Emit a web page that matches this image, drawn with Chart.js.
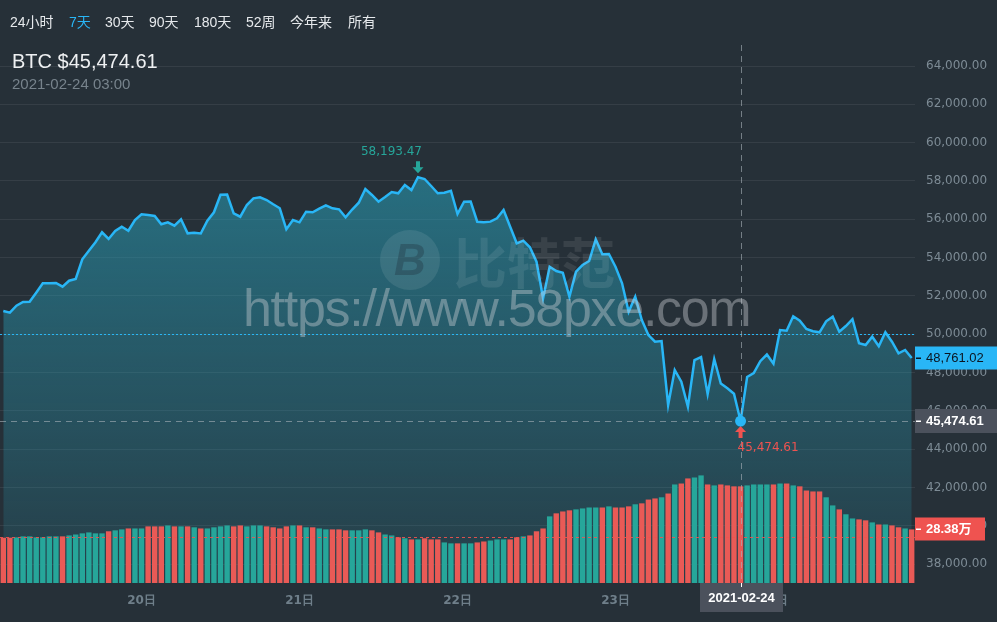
<!DOCTYPE html>
<html>
<head>
<meta charset="utf-8">
<script src="https://cdn.jsdelivr.net/npm/chart.js"></script>
<style>
  body { margin: 0; background: #263038; }
  #wrap { position: relative; width: 997px; height: 622px; overflow: hidden; background: #263038; }
  #c { position: absolute; left: 0; top: 0; }
  .t { position: absolute; white-space: nowrap; font-family: "Liberation Sans", "Noto Sans CJK SC", sans-serif; pointer-events: none; }
  .btn { top: 14px; font-size: 14px; line-height: 16px; color: #e6e9ec; }
  .btn.on { color: #29b6f6; }
  #title { left: 12px; top: 50px; font-size: 20px; line-height: 22px; color: #eef0f2; }
  #stamp { left: 12px; top: 75px; font-size: 15px; line-height: 17px; color: #77838c; }
  #wmUrl { left: 243px; top: 282px; font-size: 52px; line-height: 52px; letter-spacing: -1.3px; color: rgba(200,205,210,0.42); }
  #wmName { left: 453px; top: 234px; font-size: 54px; line-height: 54px; font-weight: bold; color: rgba(255,255,255,0.09); font-family: "Noto Sans CJK SC", sans-serif; }
  #wmLogo { left: 380px; top: 230px; width: 60px; height: 60px; border-radius: 50%; background: rgba(255,255,255,0.09);
            font: italic bold 44px/60px "Liberation Sans", sans-serif; text-align: center; color: rgba(30,50,60,0.35); }
</style>
</head>
<body>
<div id="wrap">
  <canvas id="c" width="997" height="622"></canvas>
  <div class="t btn" style="left:10px">24小时</div>
  <div class="t btn on" style="left:69px">7天</div>
  <div class="t btn" style="left:105px">30天</div>
  <div class="t btn" style="left:149px">90天</div>
  <div class="t btn" style="left:194px">180天</div>
  <div class="t btn" style="left:246px">52周</div>
  <div class="t btn" style="left:290px">今年来</div>
  <div class="t btn" style="left:348px">所有</div>
  <div class="t" id="title">BTC $45,474.61</div>
  <div class="t" id="stamp">2021-02-24 03:00</div>
  <div class="t" id="wmLogo">B</div>
  <div class="t" id="wmName">比特范</div>
  <div class="t" id="wmUrl">https://www.58pxe.com</div>
</div>
<script>
// hourly BTC price (USD), 19日 ~ 24日
const price = [
  51216, 51127, 51492, 51685, 51700, 52171, 52661, 52670, 52680, 52484,
  52797, 52886, 53914, 54362, 54801, 55322, 54973, 55390, 55615, 55406,
  55964, 56262, 56225, 56173, 55740, 55844, 55667, 56001, 55270, 55300,
  55260, 55928, 56366, 57284, 57290, 56314, 56136, 56747, 57096, 57149,
  57008, 56783, 56575, 55479, 55964, 55844, 56397, 56366, 56554, 56731,
  56575, 56523, 56105, 56510, 56867, 57582, 57269, 56919, 57164, 57425,
  57357, 57790, 57530, 58193.47, 58104, 57738, 57357, 57389, 57493, 56277,
  56919, 56930, 55875, 55844, 55880, 56053, 56486, 55615, 54748, 54884,
  54540, 53788, 51878, 53527, 53303, 53214, 51962, 53267, 53616, 53825,
  54957, 54174, 54190, 53527, 52661, 51179, 51960, 50746, 49963, 49614,
  49650, 46311, 48137, 47527, 46222, 48659, 48816, 46885, 48711, 47433,
  47182, 46895, 45474.61, 47772, 47981, 48596, 48946, 48466, 50224, 50190,
  50939, 50710, 50277, 50157, 50104, 50678, 50918, 50136, 50433, 50788,
  49530, 49442, 49875, 49374, 50104, 49614, 49009, 49181, 48761.02
];
const openPrice = 51300;

// volume (万)
const volume = [
  24.0, 24.0, 24.2, 24.7, 24.7, 24.2, 24.2, 24.7, 24.7, 24.7,
  25.2, 25.7, 26.3, 26.8, 26.3, 26.3, 27.4, 27.9, 28.4, 28.9,
  28.9, 28.9, 30.0, 30.0, 30.0, 30.5, 30.0, 30.0, 30.0, 29.5,
  28.9, 28.9, 29.5, 30.0, 30.5, 30.0, 30.5, 30.0, 30.5, 30.5,
  30.0, 29.5, 28.9, 30.0, 30.5, 30.5, 29.5, 29.5, 28.9, 28.4,
  28.4, 28.4, 27.9, 27.9, 27.9, 28.4, 27.9, 26.8, 25.7, 25.2,
  24.2, 23.7, 23.1, 23.1, 23.7, 23.1, 23.1, 21.5, 21.0, 21.0,
  21.0, 21.0, 21.5, 22.0, 22.5, 23.1, 23.1, 23.1, 24.2, 24.7,
  25.2, 27.4, 28.9, 35.3, 36.9, 37.9, 38.5, 39.0, 39.5, 40.0,
  40.0, 40.0, 40.6, 40.0, 40.0, 40.6, 41.7, 42.2, 44.2, 44.8,
  45.4, 47.4, 52.2, 52.7, 55.4, 55.9, 57.0, 52.2, 51.7, 52.2,
  51.7, 51.2, 51.2, 51.7, 52.2, 52.2, 52.2, 52.2, 52.7, 52.7,
  51.7, 51.2, 49.0, 48.5, 48.5, 45.4, 41.1, 39.0, 36.4, 34.2,
  33.7, 33.2, 32.1, 31.0, 31.0, 30.5, 29.5, 28.9, 28.38
];

const hours = price.map((p, i) => i);
const dayTickIndex = [21, 45, 69, 93, 117];
const dayTickLabels = ['20日', '21日', '22日', '23日', '24日'];
const priceTicks = [38000, 40000, 42000, 44000, 46000, 48000, 50000, 52000, 54000, 56000, 58000, 60000, 62000, 64000];
const priceLine = 50000;
const volumeLine = 24.3;
const hoverIndex = 112;
const hoverDate = '2021-02-24';

const UP = '#26a69a', DOWN = '#e95a56', BLUE = '#29b6f6';
const fmt = v => v.toLocaleString('en-US', { minimumFractionDigits: 2, maximumFractionDigits: 2 });
const barColors = price.map((p, i) => p >= (i ? price[i - 1] : openPrice) ? UP : DOWN);

function arrow(ctx, px, tipY, dir, color) {
  // dir 1 = pointing down, -1 = pointing up
  ctx.fillStyle = color;
  ctx.beginPath();
  ctx.moveTo(px, tipY);
  ctx.lineTo(px - 5.5, tipY - 6 * dir);
  ctx.lineTo(px - 2, tipY - 6 * dir);
  ctx.lineTo(px - 2, tipY - 12 * dir);
  ctx.lineTo(px + 2, tipY - 12 * dir);
  ctx.lineTo(px + 2, tipY - 6 * dir);
  ctx.lineTo(px + 5.5, tipY - 6 * dir);
  ctx.closePath();
  ctx.fill();
}

function hline(ctx, x0, x1, y) {
  ctx.beginPath(); ctx.moveTo(x0, y); ctx.lineTo(x1, y); ctx.stroke();
}

const marks = {
  id: 'marks',
  afterDatasetsDraw(chart) {
    const { ctx, chartArea: a, scales } = chart;
    const x = scales.x, y = scales.y, yv = scales.yv;
    ctx.save();
    ctx.lineWidth = 1;

    ctx.strokeStyle = BLUE; ctx.setLineDash([2, 2]);
    hline(ctx, a.left, a.right, Math.round(y.getPixelForValue(priceLine)) + 0.5);

    ctx.strokeStyle = 'rgba(239,83,80,0.9)'; ctx.setLineDash([3, 3]);
    hline(ctx, a.left, a.right, Math.round(yv.getPixelForValue(volumeLine)) + 0.5);

    const hx = x.getPixelForValue(hoverIndex);
    const hy = y.getPixelForValue(price[hoverIndex]);
    ctx.strokeStyle = 'rgba(170,180,186,0.6)'; ctx.setLineDash([6, 5]);
    hline(ctx, a.left, a.right, Math.round(hy) + 0.5);
    ctx.beginPath();
    ctx.moveTo(Math.round(hx) + 0.5, a.top); ctx.lineTo(Math.round(hx) + 0.5, a.bottom);
    ctx.stroke();
    ctx.setLineDash([]);

    // high / low
    const hi = price.indexOf(Math.max(...price));
    const lo = price.indexOf(Math.min(...price));
    ctx.font = '12px "DejaVu Sans"';
    ctx.textBaseline = 'middle';
    let px = x.getPixelForValue(hi), py = y.getPixelForValue(price[hi]);
    arrow(ctx, px, py - 4, 1, UP);
    ctx.textAlign = 'right';
    ctx.fillText(fmt(price[hi]), px + 4, py - 25);
    px = x.getPixelForValue(lo); py = y.getPixelForValue(price[lo]);
    arrow(ctx, px, py + 5, -1, '#ef5350');
    ctx.fillStyle = '#ef5350';
    ctx.textAlign = 'left';
    ctx.fillText(fmt(price[lo]), px - 3, py + 27);

    ctx.fillStyle = BLUE;
    ctx.beginPath(); ctx.arc(hx, hy, 5.5, 0, Math.PI * 2); ctx.fill();
    ctx.restore();
  },
  afterDraw(chart) {
    const { ctx, chartArea: a, scales } = chart;
    const x = scales.x, y = scales.y, yv = scales.yv;
    ctx.save();
    ctx.textBaseline = 'middle';
    ctx.textAlign = 'left';
    const box = (cy, h, w, bg, text, color, tick) => {
      cy = Math.round(cy);
      ctx.fillStyle = bg;
      ctx.fillRect(a.right, cy - h / 2, w, h);
      ctx.fillStyle = tick;
      ctx.fillRect(a.right + 1, cy - 0.5, 5, 1.5);
      ctx.fillStyle = color;
      ctx.fillText(text, a.right + 11, cy + 0.5);
    };
    const last = price.length - 1;
    ctx.font = '13px "Liberation Sans"';
    box(y.getPixelForValue(price[last]), 23, 82, BLUE, fmt(price[last]), '#0b1520', '#0b1520');
    ctx.font = 'bold 13px "Liberation Sans"';
    box(y.getPixelForValue(price[hoverIndex]), 24, 82, '#4b515c', fmt(price[hoverIndex]), '#ffffff', '#ffffff');
    ctx.font = 'bold 13px "Liberation Sans", "Noto Sans CJK SC"';
    box(yv.getPixelForValue(volume[last]), 23, 70, '#ef5350', volume[last].toFixed(2) + '万', '#ffffff', '#ffffff');

    // date box under crosshair
    const hx = Math.round(x.getPixelForValue(hoverIndex));
    ctx.fillStyle = '#4b515c';
    ctx.fillRect(hx - 41, a.bottom, 83, 29);
    ctx.fillStyle = '#ffffff';
    ctx.fillRect(hx, a.bottom, 1, 4);
    ctx.textAlign = 'center';
    ctx.font = 'bold 13px "Liberation Sans"';
    ctx.fillText(hoverDate, hx + 0.5, a.bottom + 15);
    ctx.restore();
  }
};

const ctx = document.getElementById('c').getContext('2d');
new Chart(ctx, {
  data: {
    labels: hours,
    datasets: [
      {
        type: 'bar',
        data: volume,
        yAxisID: 'yv',
        backgroundColor: barColors,
        barPercentage: 0.82,
        categoryPercentage: 1,
        order: 0
      },
      {
        type: 'line',
        data: price,
        yAxisID: 'y',
        borderColor: BLUE,
        borderWidth: 2.5,
        pointRadius: 0,
        tension: 0,
        fill: 'start',
        backgroundColor: (c) => {
          const a = c.chart.chartArea;
          if (!a) return 'rgba(41,160,185,0.4)';
          const g = c.chart.ctx.createLinearGradient(0, a.top, 0, a.bottom);
          g.addColorStop(0, 'rgba(41,160,185,0.7)');
          g.addColorStop(1, 'rgba(41,160,185,0.12)');
          return g;
        },
        order: 1
      }
    ]
  },
  options: {
    responsive: false,
    animation: false,
    layout: { padding: { top: 45, left: 0, right: 0, bottom: 0 } },
    plugins: { legend: { display: false }, tooltip: { enabled: false } },
    scales: {
      x: {
        type: 'category',
        offset: true,
        grid: { display: true, drawOnChartArea: false, drawTicks: true, tickLength: 9, color: 'rgba(0,0,0,0)' },
        border: { display: false },
        ticks: {
          autoSkip: false, maxRotation: 0, minRotation: 0, padding: 2,
          color: '#6f7f8a',
          font: { family: 'DejaVu Sans', size: 12, weight: 'bold' },
          callback: (v, i) => {
            const k = dayTickIndex.indexOf(i);
            return k < 0 ? '' : dayTickLabels[k];
          }
        },
        afterFit: (s) => { s.height = 39; }
      },
      y: {
        type: 'linear',
        position: 'right',
        min: 37023,
        max: 65096,
        grid: { color: 'rgba(255,255,255,0.07)', drawTicks: false },
        border: { display: false },
        ticks: {
          autoSkip: false,
          padding: 11,
          color: '#7d8b95',
          font: { family: 'DejaVu Sans', size: 12 },
          callback: (v) => fmt(v)
        },
        afterBuildTicks: (s) => { s.ticks = priceTicks.map(v => ({ value: v })); },
        afterFit: (s) => { s.width = 82; }
      },
      yv: { display: false, min: 0, max: 285 }
    }
  },
  plugins: [marks]
});
</script>
</body>
</html>
